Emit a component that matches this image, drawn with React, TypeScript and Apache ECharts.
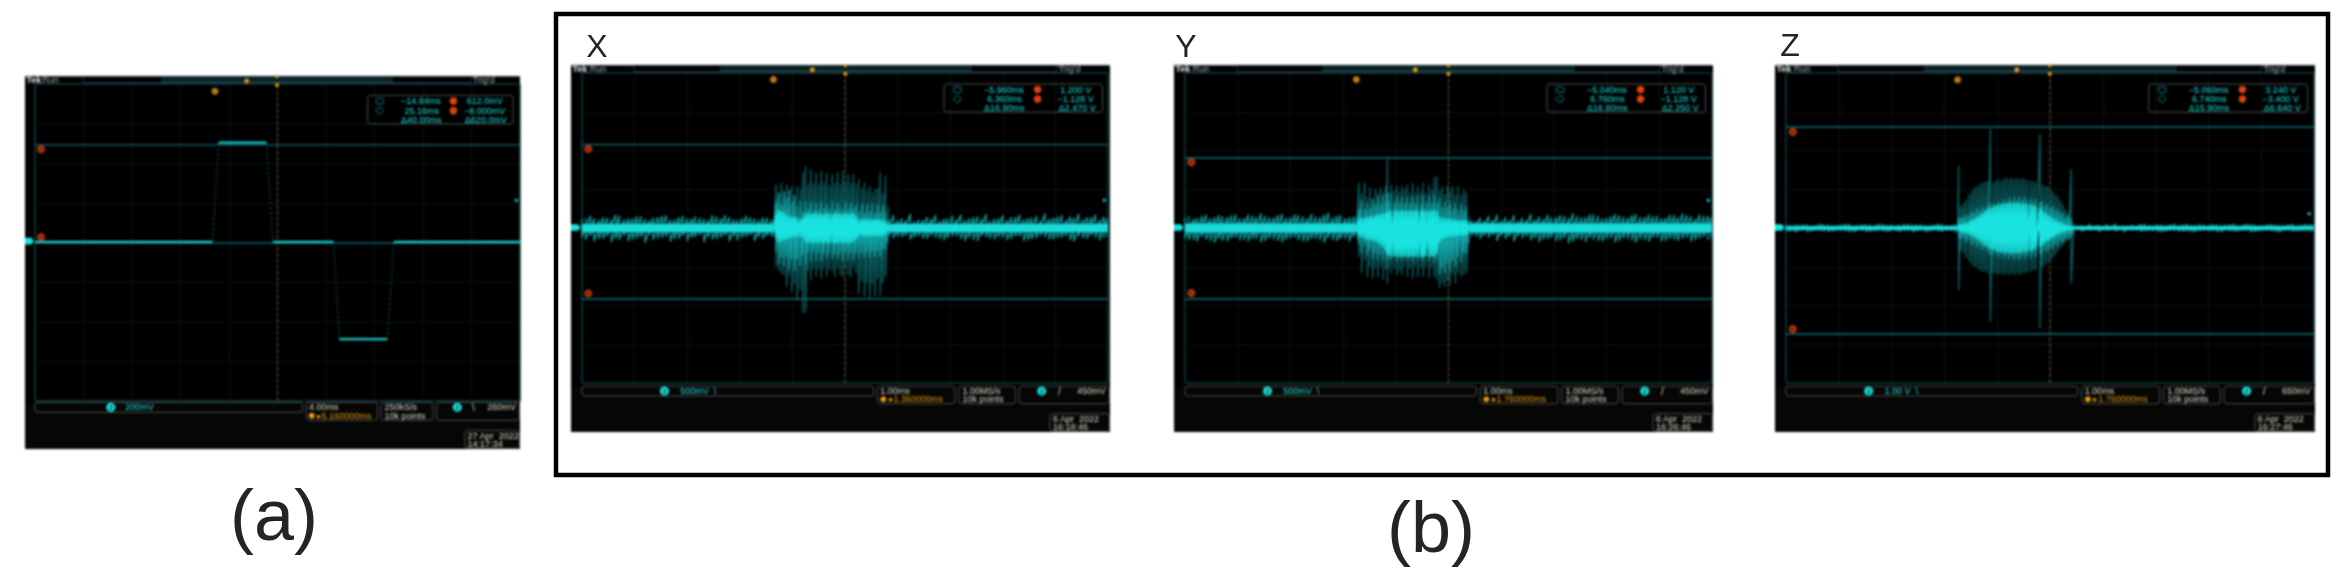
import React, { useEffect, useRef } from "react";
import * as echarts from "echarts";

// ---------- Panel (a): square-pulse capture (ms, mV) ----------
const pulseTimes = [-20, -5.37, -4.86, -0.92, -0.38, 4.6, 5.11, 9.07, 9.59, 20];
const pulseThin = [-2, -2, 630, 630, -2, -2, -609, -609, -2, -2];
const thickTimes = [-20, -5.37, null, -4.86, -0.92, null, -0.38, 4.6, null, 5.11, 9.07, null, 9.59, 20];
const thickValues = [4, 4, null, 630, 630, null, 4, 4, null, -609, -609, null, 4, 4];
const cursorsA = [616, -4];

// ---------- Time bases of the baseline noise (ms) ----------
const baseTimes = [-5, -4.84, -4.68, -4.52, -4.36, -4.2, -4.04, -3.88, -3.72, -3.56, -3.4, -3.24, -3.08, -2.92, -2.76, -2.6, -2.44, -2.28, -2.12, -1.96, -1.8, -1.64, -1.48, -1.32, -1.16, -1, -0.84, -0.68, -0.52, -0.36, -0.2, -0.04, 0.12, 0.28, 0.44, 0.6, 0.76, 0.92, 1.08, 1.24, 1.4, 1.56, 1.72, 1.88, 2.04, 2.2, 2.36, 2.52, 2.68, 2.84, 3, 3.16, 3.32, 3.48, 3.64, 3.8, 3.96, 4.12, 4.28, 4.44, 4.6, 4.76, 4.92];
const baseTimes2 = [-4.93, -4.77, -4.6, -4.44, -4.29, -4.12, -3.96, -3.8, -3.65, -3.48, -3.32, -3.16, -3, -2.85, -2.68, -2.52, -2.36, -2.2, -2.05, -1.88, -1.72, -1.56, -1.4, -1.25, -1.08, -0.92, -0.76, -0.6, -0.45, -0.28, -0.12, 0.04, 0.2, 0.35, 0.52, 0.68, 0.84, 1, 1.15, 1.32, 1.48, 1.64, 1.8, 1.95, 2.12, 2.28, 2.44, 2.6, 2.75, 2.92, 3.08, 3.24, 3.4, 3.55, 3.72, 3.88, 4.04, 4.2, 4.35, 4.52, 4.68, 4.84, 4.98];

// ---------- Panel X ----------
const noiseXTop = [140, 190, 120, 160, 210, 130, 150, 180, 120, 170, 200, 130, 190, 140, 160, 120, 180, 200, 130, 150, 170, 120, 160, 140, 120, 130, 120, 110, 120, 130, 110, 120, 130, 120, 110, 130, 190, 200, 150, 220, 130, 170, 200, 140, 190, 210, 150, 180, 220, 140, 200, 170, 210, 150, 190, 230, 160, 200, 180, 220, 170, 210, 180];
const noiseXBot = [-150, -120, -170, -130, -160, -120, -180, -140, -110, -160, -130, -170, -120, -150, -110, -140, -170, -120, -130, -150, -110, -140, -120, -100, -110, -120, -110, -100, -110, -120, -110, -100, -120, -110, -100, -120, -120, -160, -140, -180, -130, -170, -150, -190, -130, -170, -150, -200, -140, -180, -150, -170, -130, -190, -160, -140, -180, -150, -190, -130, -170, -150, -160];
const burstXTimes = [-1.36, -1.31, -1.26, -1.21, -1.16, -1.11, -1.06, -1.01, -0.96, -0.91, -0.85, -0.8, -0.75, -0.7, -0.65, -0.6, -0.55, -0.5, -0.45, -0.4, -0.35, -0.3, -0.24, -0.19, -0.14, -0.09, -0.04, 0.01, 0.06, 0.11, 0.16, 0.21, 0.26, 0.32, 0.37, 0.42, 0.47, 0.52, 0.57, 0.62, 0.67, 0.72, 0.77, 0.82];
const outerXTop = [134, 699, 560, 726, 520, 699, 500, 672, 520, 672, 620, 888, 995, 700, 941, 720, 888, 700, 914, 730, 888, 680, 861, 720, 898, 700, 914, 740, 861, 720, 861, 700, 780, 640, 726, 600, 672, 560, 618, 640, 888, 560, 833, 350];
const outerXBot = [-134, -619, -680, -726, -760, -941, -760, -1022, -900, -1157, -1000, -1372, -1345, -680, -834, -640, -780, -660, -807, -640, -780, -660, -699, -780, -640, -753, -780, -640, -753, -780, -620, -726, -1049, -860, -1103, -880, -1130, -900, -1103, -820, -1076, -880, -780, -242];
const midXTop = [80, 420, 560, 380, 590, 470, 610, 420, 520, 350, 430, 250, 430, 300, 410, 280, 400, 290, 420, 310, 380, 300, 430, 290, 400, 310, 290, 410, 300, 400, 320, 370, 260, 380, 240, 370, 260, 390, 230, 370, 250, 360, 240, 120];
const midXBot = [-80, -380, -580, -470, -610, -460, -660, -490, -680, -500, -600, -430, -580, -400, -530, -390, -520, -390, -530, -410, -490, -410, -500, -420, -490, -410, -520, -400, -510, -390, -520, -400, -480, -390, -460, -380, -470, -370, -450, -360, -460, -330, -340, -100];
const coreXTop = [30, 200, 280, 260, 240, 200, 180, 160, 170, 140, 130, 150, 220, 230, 210, 220, 240, 215, 225, 210, 235, 220, 215, 230, 220, 225, 210, 235, 215, 225, 230, 180, 130, 120, 140, 125, 130, 120, 135, 125, 130, 110, 100, 40];
const coreXBot = [-30, -160, -220, -200, -180, -170, -150, -140, -130, -120, -130, -150, -210, -230, -215, -240, -220, -235, -225, -240, -220, -235, -225, -240, -230, -220, -235, -225, -240, -220, -215, -170, -120, -110, -130, -115, -125, -110, -120, -115, -125, -105, -90, -35];
const cursorsX = [1345, -1146];

// ---------- Panel Y ----------
const noiseYTop = [170, 140, 190, 150, 200, 170, 210, 150, 190, 230, 170, 200, 160, 210, 180, 220, 170, 240, 190, 150, 180, 160, 130, 120, 130, 120, 110, 120, 130, 120, 110, 120, 130, 110, 120, 160, 190, 210, 170, 200, 160, 220, 180, 210, 170, 190, 230, 170, 210, 190, 160, 220, 180, 200, 170, 210, 190, 160, 200, 230, 180, 210, 190];
const noiseYBot = [-160, -190, -140, -200, -170, -210, -150, -190, -170, -220, -160, -200, -180, -150, -210, -170, -190, -150, -200, -170, -140, -130, -120, -110, -120, -110, -120, -110, -100, -120, -110, -120, -110, -100, -120, -170, -150, -200, -170, -210, -160, -190, -220, -170, -200, -160, -210, -180, -150, -200, -170, -220, -160, -190, -170, -210, -150, -200, -180, -170, -210, -160, -190];
const burstYTimes = [-1.75, -1.7, -1.65, -1.59, -1.54, -1.49, -1.44, -1.39, -1.34, -1.29, -1.24, -1.19, -1.16, -1.14, -1.09, -1.03, -0.98, -0.93, -0.88, -0.83, -0.78, -0.73, -0.68, -0.63, -0.58, -0.52, -0.48, -0.43, -0.37, -0.32, -0.27, -0.22, -0.17, -0.12, -0.07, -0.02, 0.03, 0.08, 0.13, 0.18, 0.24, 0.29, 0.34, 0.39];
const outerYTop = [81, 726, 560, 726, 500, 645, 480, 618, 560, 645, 580, 672, 1103, 560, 699, 600, 672, 580, 672, 610, 699, 560, 726, 580, 672, 580, 726, 560, 699, 620, 807, 834, 600, 672, 540, 672, 600, 672, 530, 672, 530, 618, 560, 188];
const outerYBot = [-81, -457, -726, -520, -780, -620, -807, -640, -780, -610, -834, -660, -888, -640, -726, -650, -753, -690, -753, -610, -780, -640, -807, -610, -780, -640, -780, -620, -807, -640, -780, -834, -968, -880, -941, -840, -914, -740, -888, -720, -780, -740, -726, -242];
const midYTop = [60, 300, 440, 300, 400, 310, 450, 370, 510, 400, 520, 420, 560, 420, 560, 400, 510, 410, 500, 400, 490, 400, 500, 390, 530, 380, 520, 410, 510, 400, 520, 410, 480, 330, 410, 310, 400, 290, 400, 300, 380, 280, 340, 90];
const midYBot = [-60, -260, -400, -280, -430, -340, -490, -400, -510, -420, -530, -400, -510, -410, -520, -400, -530, -400, -510, -410, -510, -410, -530, -400, -510, -420, -520, -400, -530, -430, -560, -490, -740, -640, -720, -570, -680, -520, -620, -460, -540, -390, -400, -100];
const coreYTop = [40, 120, 150, 140, 160, 180, 170, 190, 200, 210, 220, 230, 240, 260, 270, 265, 275, 260, 280, 265, 270, 275, 260, 280, 265, 275, 270, 280, 260, 270, 280, 260, 170, 140, 150, 130, 140, 120, 130, 120, 110, 120, 100, 30];
const coreYBot = [-40, -120, -140, -160, -170, -180, -190, -200, -230, -260, -300, -340, -400, -430, -450, -455, -445, -460, -450, -455, -445, -460, -450, -455, -445, -460, -450, -445, -455, -450, -445, -400, -210, -170, -150, -140, -130, -120, -125, -115, -120, -110, -100, -35];
const cursorsY = [1130, -1146];

// ---------- Panel Z ----------
const noiseZTop = [110, 80, 100, 70, 120, 90, 80, 110, 70, 100, 90, 120, 80, 70, 110, 90, 100, 70, 120, 80, 90, 70, 60, 60, 50, 60, 50, 60, 50, 60, 60, 50, 60, 50, 70, 70, 110, 80, 100, 120, 70, 90, 110, 80, 100, 70, 120, 90, 80, 110, 70, 100, 90, 120, 80, 110, 70, 100, 90, 80, 120, 90, 100];
const noiseZBot = [-90, -120, -70, -100, -80, -110, -70, -90, -120, -80, -100, -70, -110, -90, -80, -120, -70, -100, -90, -70, -110, -60, -60, -50, -60, -50, -60, -50, -60, -50, -60, -50, -60, -50, -70, -100, -70, -110, -80, -90, -120, -70, -100, -80, -110, -90, -70, -100, -120, -80, -90, -110, -70, -100, -80, -120, -90, -70, -110, -80, -100, -90, -110];
const burstZTimes = [-1.75, -1.73, -1.69, -1.64, -1.59, -1.53, -1.48, -1.43, -1.38, -1.33, -1.28, -1.23, -1.18, -1.13, -1.08, -1.03, -0.98, -0.93, -0.88, -0.83, -0.78, -0.73, -0.68, -0.63, -0.58, -0.53, -0.48, -0.43, -0.37, -0.32, -0.27, -0.19, -0.15, -0.1, -0.05, 0, 0.05, 0.1, 0.15, 0.2, 0.25, 0.3, 0.35, 0.4, 0.45];
const outerZTop = [54, 1989, 698, 806, 914, 1075, 1183, 1290, 1344, 1398, 1451, 1473, 1505, 3171, 1451, 1505, 1558, 1505, 1558, 1612, 1558, 1612, 1558, 1612, 1558, 1612, 1558, 1537, 1505, 1505, 1473, 3010, 1398, 1344, 1344, 1236, 1183, 1075, 1021, 859, 752, 591, 484, 1881, 161];
const outerZBot = [-54, -1989, -698, -806, -967, -1075, -1183, -1236, -1290, -1344, -1398, -1398, -1451, -3010, -1451, -1451, -1505, -1451, -1505, -1451, -1505, -1451, -1505, -1451, -1505, -1451, -1451, -1398, -1398, -1344, -1344, -3225, -1236, -1183, -1129, -1075, -967, -859, -752, -645, -537, -430, -376, -1774, -161];
const midZTop = [20, 300, 340, 300, 430, 380, 520, 460, 610, 540, 670, 600, 730, 800, 780, 720, 850, 790, 910, 830, 950, 870, 980, 890, 1010, 890, 980, 870, 950, 830, 910, 820, 830, 700, 770, 630, 690, 550, 600, 450, 490, 350, 390, 300, 60];
const midZBot = [-20, -300, -340, -300, -440, -390, -530, -470, -610, -550, -690, -630, -770, -860, -850, -780, -910, -830, -950, -870, -990, -900, -1010, -920, -1010, -900, -990, -880, -960, -840, -920, -820, -830, -690, -750, -610, -670, -530, -580, -430, -480, -330, -370, -280, -50];
const coreZTop = [10, 70, 90, 110, 140, 180, 220, 270, 330, 390, 450, 520, 590, 640, 670, 700, 730, 740, 760, 770, 780, 790, 780, 790, 780, 770, 760, 750, 740, 710, 680, 620, 550, 480, 420, 360, 300, 240, 190, 150, 110, 80, 60, 40, 15];
const coreZBot = [-10, -70, -90, -120, -150, -190, -230, -280, -340, -400, -470, -530, -600, -650, -680, -710, -740, -760, -770, -780, -790, -800, -790, -780, -780, -770, -760, -750, -720, -690, -650, -590, -530, -470, -410, -350, -290, -230, -180, -140, -110, -80, -60, -40, -15];
const cursorsZ = [3257, -3419];

// ---------- Marker values: [time, value] ----------
const markersA = { a: [-19.5, 588], b: [-19.5, 34], trig: [-5.16, 954], dot: [19.7, 267] };
const markersX = { a: [-4.88, 1275], b: [-4.88, -1054], trig: [-1.36, 2394], dot: [4.93, 447] };
const markersY = { a: [-4.88, 1060], b: [-4.88, -1049], trig: [-1.75, 2394], dot: [4.93, 447] };
const markersZ = { a: [-4.87, 3096], b: [-4.87, -3257], trig: [-1.75, 4784], dot: [4.91, 462] };

// ---------- Readout texts ----------
const readoutA = { c1: "−14.84ms", c2: "25.16ms", dt: "Δ40.00ms", v1: "612.0mV", v2: "−8.000mV", dv: "Δ620.0mV", scale: "200mV", base: "4.00ms", delay: "5.160000ms", rate: "250kS/s", pts: "10k points", slope: "\\", trig: "260mV", date: "27 Apr  2022", time: "14:17:34" };
const readoutX = { c1: "−5.960ms", c2: "6.360ms", dt: "Δ16.80ms", v1: "1.200 V", v2: "−1.128 V", dv: "Δ2.470 V", scale: "500mV  \\", base: "1.00ms", delay: "1.360000ms", rate: "1.00MS/s", pts: "10k points", slope: "/", trig: "450mV", date: "6 Apr  2022", time: "16:18:46" };
const readoutY = { c1: "−5.040ms", c2: "6.760ms", dt: "Δ16.80ms", v1: "1.120 V", v2: "−1.128 V", dv: "Δ2.250 V", scale: "500mV  \\", base: "1.00ms", delay: "1.760000ms", rate: "1.00MS/s", pts: "10k points", slope: "/", trig: "450mV", date: "6 Apr  2022", time: "16:26:46" };
const readoutZ = { c1: "−5.060ms", c2: "6.740ms", dt: "Δ15.90ms", v1: "3.240 V", v2: "−3.400 V", dv: "Δ6.640 V", scale: "1.00 V  \\", base: "1.00ms", delay: "1.760000ms", rate: "1.00MS/s", pts: "10k points", slope: "/", trig: "650mV", date: "6 Apr  2022", time: "16:27:46" };

const panelLabels = ["X", "Y", "Z"];
const captionLabels = ["(a)", "(b)"];

const CYAN = "#19e3df";
const TEAL = "#0e6f74";
const RED = "#e2420f";
const ORANGE = "#e89a12";
const FONT = '"Liberation Sans", Arial, sans-serif';

const zig = (t: number[], top: number[], bot: number[]) => {
  const out: number[][] = [];
  t.forEach((x, i) => {
    out.push([x, top[i]]);
    out.push([x, bot[i]]);
  });
  return out;
};

const line = (i: number, data: any[], color: string, width: number, type: any = "solid", z = 2, opacity = 1) => ({
  type: "line",
  xAxisIndex: i,
  yAxisIndex: i,
  data,
  symbol: "none",
  silent: true,
  connectNulls: false,
  z,
  lineStyle: { color, width, type, opacity, join: "round" },
});

const dots = (i: number, m: any) => [
  {
    type: "scatter",
    xAxisIndex: i,
    yAxisIndex: i,
    data: [m.a, m.b],
    symbolSize: 8,
    silent: true,
    z: 6,
    itemStyle: { color: RED },
    label: { show: true, position: "inside", fontSize: 6, color: "#240800", fontFamily: FONT, formatter: (p: any) => (p.dataIndex === 0 ? "a" : "b") },
  },
  { type: "scatter", xAxisIndex: i, yAxisIndex: i, data: [m.trig], symbolSize: 7, silent: true, z: 6, itemStyle: { color: ORANGE } },
  { type: "scatter", xAxisIndex: i, yAxisIndex: i, data: [m.dot], symbolSize: 3.5, silent: true, z: 6, itemStyle: { color: CYAN } },
];

// Non-data scope furniture, placed as fractions of the black panel.
function chrome(p: { x: number; y: number; w: number; h: number }, r: any) {
  const fx = (z: number) => p.x + ((z - 44) / 1436) * p.w;
  const fy = (z: number) => p.y + ((z - 48) / 1120) * p.h;
  const txt = (text: string, zx: number, zy: number, fill: string, align = "left", size = 9, weight = "normal") => ({
    type: "text",
    x: fx(zx),
    y: fy(zy),
    z: 5,
    silent: true,
    style: { text, fill, font: `${weight} ${size}px ${FONT}`, textAlign: align, textVerticalAlign: "middle", align, verticalAlign: "middle" },
  });
  const box = (x0: number, y0: number, x1: number, y1: number, stroke = "#4a4f50", rad = 3) => ({
    type: "rect",
    z: 4,
    silent: true,
    shape: { x: fx(x0), y: fy(y0), width: fx(x1) - fx(x0), height: fy(y1) - fy(y0), r: rad },
    style: { fill: "transparent", stroke, lineWidth: 1 },
  });
  const hline = (x0: number, x1: number, y: number, stroke: string, w = 1) => ({
    type: "line",
    z: 4,
    silent: true,
    shape: { x1: fx(x0), y1: fy(y), x2: fx(x1), y2: fy(y) },
    style: { stroke, lineWidth: w },
  });
  const dot = (x: number, y: number, rad: number, fill: string, stroke?: string) => ({
    type: "circle",
    z: 5,
    silent: true,
    shape: { cx: fx(x), cy: fy(y), r: rad },
    style: stroke ? { fill: "transparent", stroke, lineWidth: 1 } : { fill },
  });
  return [
    { type: "rect", z: -2, silent: true, shape: { x: p.x, y: p.y, width: p.w, height: p.h }, style: { fill: "#000" } },
    { type: "rect", z: -1, silent: true, shape: { x: fx(44), y: fy(1028), width: p.w, height: fy(1168) - fy(1028) }, style: { fill: "#060604" } },
    hline(44, 1480, 49, "#5c6b74"),
    txt("Tek", 48, 60, "#e4e4e4", "left", 9, "bold"),
    txt("Run", 94, 60, "#a0a8a8", "left", 9),
    hline(212, 1338, 70, "#2d4a66", 1.5),
    hline(440, 1112, 55, "#1a5a5e"),
    hline(440, 1112, 64, "#127274"),
    box(212, 50, 1338, 70, "#26323c", 0),
    dot(687, 63, 2.4, ORANGE),
    dot(775, 50, 1.5, ORANGE),
    dot(775, 75, 2, ORANGE),
    txt("Trig'd", 1343, 60, "#a5adad", "left", 9),
    // cursor readout
    box(1038, 106, 1460, 192),
    box(1064, 115, 1083, 132, "#11808a", 1),
    dot(1073, 152, 3.2, "", "#11808a"),
    txt(r.c1, 1250, 123, CYAN, "right"),
    txt(r.c2, 1245, 152, CYAN, "right"),
    txt(r.dt, 1252, 179, CYAN, "right"),
    dot(1287, 123, 3.8, RED),
    dot(1287, 152, 3.8, RED),
    txt(r.v1, 1430, 123, CYAN, "right"),
    txt(r.v2, 1437, 152, CYAN, "right"),
    txt(r.dv, 1442, 179, CYAN, "right"),
    // bottom readouts
    box(73, 1028, 850, 1058),
    dot(293, 1043, 4.5, CYAN),
    txt("2", 293, 1043, "#063a3a", "center", 7, "bold"),
    txt(r.scale, 335, 1043, CYAN),
    box(860, 1028, 1067, 1082),
    txt(r.base, 868, 1042, "#dcdccc"),
    dot(876, 1068, 3, ORANGE),
    txt("▸" + r.delay, 890, 1068, ORANGE, "left", 9),
    box(1077, 1028, 1228, 1082),
    txt(r.rate, 1087, 1042, "#dcdcd4"),
    txt(r.pts, 1087, 1068, "#dcdcd4"),
    box(1238, 1028, 1478, 1082),
    dot(1298, 1043, 4.5, CYAN),
    txt("2", 1298, 1043, "#063a3a", "center", 7, "bold"),
    txt(r.slope, 1345, 1043, "#d0d0d0", "center", 10),
    txt(r.trig, 1468, 1043, "#dcdccc", "right"),
    box(1320, 1112, 1478, 1166),
    txt(r.date, 1328, 1129, "#dcdcd4"),
    txt(r.time, 1328, 1153, "#dcdcd4"),
    // ground tag
    { type: "polygon", z: 5, silent: true, shape: { points: [[fx(44), fy(534)], [fx(62), fy(534)], [fx(70), fy(544)], [fx(62), fy(554)], [fx(44), fy(554)]] }, style: { fill: CYAN } },
  ];
}

const panelA = { x: 25, y: 76, w: 495, h: 373 };
const panelX = { x: 571, y: 65, w: 539, h: 367 };
const panelY = { x: 1174, y: 65, w: 539, h: 367 };
const panelZ = { x: 1775, y: 65, w: 540, h: 367 };
const gratA = { left: 35, top: 84, width: 485, height: 317 };
const gratX = { left: 582, top: 73, width: 526, height: 310 };
const gratY = { left: 1185, top: 73, width: 527, height: 310 };
const gratZ = { left: 1786, top: 73, width: 528, height: 310 };

const bigText = (text: string, x: number, y: number, size: number) => ({
  type: "text",
  x,
  y,
  silent: true,
  style: { text, fill: "#242424", font: `${size}px ${FONT}`, textAlign: "center", textVerticalAlign: "middle", align: "center", verticalAlign: "middle" },
});

export default function App() {
  const pageRef = useRef<HTMLDivElement>(null);
  const scopeRef = useRef<HTMLDivElement>(null);
  useEffect(() => {
    document.body.style.margin = "0";
    document.body.style.background = "#fff";

    // Page layer: frame, panel letters and captions.
    const page = echarts.init(pageRef.current!, undefined, { renderer: "svg" });
    page.setOption({
      animation: false,
      backgroundColor: "#ffffff",
      graphic: {
        elements: [
          { type: "rect", silent: true, shape: { x: 556, y: 14, width: 1772, height: 461 }, style: { fill: "#fff", stroke: "#000", lineWidth: 4.5 } },
          bigText(panelLabels[0], 597, 46, 32),
          bigText(panelLabels[1], 1186, 46, 32),
          bigText(panelLabels[2], 1790, 45, 32),
          bigText(captionLabels[0], 274, 515, 72),
          bigText(captionLabels[1], 1431, 527, 72),
        ],
      },
    });

    // Scope layer: the four oscilloscope captures, softened like the photographed screens.
    const chart = echarts.init(scopeRef.current!, undefined, { renderer: "svg" });
    const axis = (i: number, min: number, max: number, interval: number) => ({
      type: "value", gridIndex: i, min, max, interval,
      axisLine: { show: false }, axisTick: { show: false }, axisLabel: { show: false },
      splitLine: { show: true, lineStyle: { color: "#182020", type: "dotted", width: 1 } },
    });
    const grids = [gratA, gratX, gratY, gratZ].map((g) => ({ ...g, show: true, borderColor: "#11626c", borderWidth: 1, backgroundColor: "transparent" }));
    const scope = (i: number, tmin: number, tmax: number, vmin: number, vmax: number, curs: number[]) => [
      line(i, [[0, vmin], [0, vmax]], "#6a5a28", 1, "dashed", 1),
      line(i, [[tmin, curs[0]], [tmax, curs[0]]], TEAL, 1.4, "solid", 1),
      line(i, [[tmin, curs[1]], [tmax, curs[1]]], TEAL, 1.4, "solid", 1),
    ];
    const burst = (i: number, nt: number[], nb: number[], coreW: number, t: number[], ot: number[], ob: number[], mt: number[], mb: number[], ct: number[], cb: number[]) => [
      line(i, zig(baseTimes, nt, nb), "#10989a", 1.5, "solid", 2),
      line(i, zig(baseTimes2, [...nb].reverse().map((v) => -v), [...nt].reverse().map((v) => -v)), "#10989a", 1.5, "solid", 2),
      line(i, [[-5, 0], [5, 0]], CYAN, coreW, "solid", 3, 0.95),
      line(i, zig(t, ot, ob), "#0c6c6e", 1.2, "solid", 3),
      line(i, zig(t, mt, mb), "#12a6a8", 1.5, "solid", 3),
      line(i, zig(t, ct, cb), CYAN, 2, "solid", 4),
    ];
    const option: any = {
      animation: false,
      backgroundColor: "transparent",
      grid: grids,
      xAxis: [axis(0, -20, 20, 4), axis(1, -5, 5, 1), axis(2, -5, 5, 1), axis(3, -5, 5, 1)],
      yAxis: [axis(0, -1000, 1000, 250), axis(1, -2500, 2500, 625), axis(2, -2500, 2500, 625), axis(3, -5000, 5000, 1250)],
      series: [
        ...scope(0, -20, 20, -1000, 1000, cursorsA),
        line(0, pulseTimes.map((t, i) => [t, pulseThin[i]]), "#0b7577", 1, [2, 3], 2),
        line(0, thickTimes.map((t, i) => (t === null ? [null, null] : [t, thickValues[i]])), "#17c9c8", 2.2, "solid", 3),
        ...dots(0, markersA),

        ...scope(1, -5, 5, -2500, 2500, cursorsX),
        ...burst(1, noiseXTop, noiseXBot, 8, burstXTimes, outerXTop, outerXBot, midXTop, midXBot, coreXTop, coreXBot),
        ...dots(1, markersX),

        ...scope(2, -5, 5, -2500, 2500, cursorsY),
        ...burst(2, noiseYTop, noiseYBot, 9, burstYTimes, outerYTop, outerYBot, midYTop, midYBot, coreYTop, coreYBot),
        ...dots(2, markersY),

        ...scope(3, -5, 5, -5000, 5000, cursorsZ),
        ...burst(3, noiseZTop, noiseZBot, 3.5, burstZTimes, outerZTop, outerZBot, midZTop, midZBot, coreZTop, coreZBot),
        ...dots(3, markersZ),
      ],
      graphic: {
        elements: [
          ...chrome(panelA, readoutA),
          ...chrome(panelX, readoutX),
          ...chrome(panelY, readoutY),
          ...chrome(panelZ, readoutZ),
        ],
      },
    };
    chart.setOption(option);
    return () => {
      chart.dispose();
      page.dispose();
    };
  }, []);
  return (
    <div style={{ position: "fixed", left: 0, top: 0, width: 2346, height: 582 }}>
      <div ref={pageRef} style={{ position: "absolute", left: 0, top: 0, width: 2346, height: 582, filter: "blur(0.4px)" }} />
      <div ref={scopeRef} style={{ position: "absolute", left: 0, top: 0, width: 2346, height: 582, filter: "blur(0.8px)" }} />
    </div>
  );
}
